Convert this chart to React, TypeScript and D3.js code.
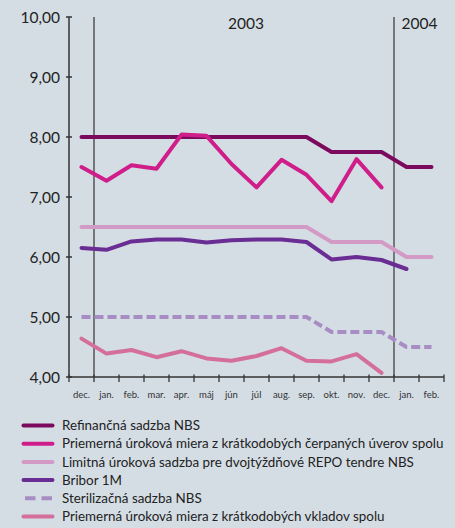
import React from "react";
import * as d3 from "d3";

const months = ["dec.", "jan.", "feb.", "mar.", "apr.", "máj", "jún", "júl", "aug.", "sep.", "okt.", "nov.", "dec.", "jan.", "feb."];
const yTicks = [4, 5, 6, 7, 8, 9, 10];
const yearLabels = ["2003", "2004"];

const refinancna = [8.0, 8.0, 8.0, 8.0, 8.0, 8.0, 8.0, 8.0, 8.0, 8.0, 7.75, 7.75, 7.75, 7.5, 7.5];
const uvery = [7.5, 7.27, 7.53, 7.47, 8.04, 8.02, 7.55, 7.16, 7.62, 7.37, 6.93, 7.63, 7.16];
const limitna = [6.5, 6.5, 6.5, 6.5, 6.5, 6.5, 6.5, 6.5, 6.5, 6.5, 6.25, 6.25, 6.25, 6.0, 6.0];
const bribor = [6.15, 6.12, 6.26, 6.29, 6.29, 6.24, 6.28, 6.29, 6.29, 6.25, 5.96, 6.0, 5.95, 5.8];
const sterilizacna = [5.0, 5.0, 5.0, 5.0, 5.0, 5.0, 5.0, 5.0, 5.0, 5.0, 4.75, 4.75, 4.75, 4.5, 4.5];
const vklady = [4.64, 4.39, 4.45, 4.33, 4.43, 4.31, 4.27, 4.35, 4.48, 4.27, 4.26, 4.38, 4.07];

const seriesNames = [
  "Refinančná sadzba NBS",
  "Priemerná úroková miera z krátkodobých čerpaných úverov spolu",
  "Limitná úroková sadzba pre dvojtýždňové REPO tendre NBS",
  "Bribor 1M",
  "Sterilizačná sadzba NBS",
  "Priemerná úroková miera z krátkodobých vkladov spolu",
];

const series = [
  { name: seriesNames[0], values: refinancna, color: "#7b0a5f", dash: "" },
  { name: seriesNames[1], values: uvery, color: "#cf1e8a", dash: "" },
  { name: seriesNames[2], values: limitna, color: "#d49ac6", dash: "" },
  { name: seriesNames[3], values: bribor, color: "#6a2d94", dash: "" },
  { name: seriesNames[4], values: sterilizacna, color: "#a88dc4", dash: "9,4" },
  { name: seriesNames[5], values: vklady, color: "#d46f9c", dash: "" },
];

const W = 455;
const H = 528;
const left = 69;
const right = 444;
const top = 17;
const bottom = 377;
const font = "Lato, 'Open Sans', sans-serif";

export default function App() {
  const x = d3.scaleBand<number>().domain(months.map((_, i) => i)).range([left, right]).paddingInner(0).paddingOuter(0);
  const y = d3.scaleLinear().domain([4, 10]).range([bottom, top]);
  const cx = (i: number) => (x(i) as number) + x.bandwidth() / 2;
  const line = d3
    .line<number>()
    .x((_, i) => cx(i))
    .y((d) => y(d));

  const boundaries = [x(1) as number, x(13) as number];
  const tickXs = months.map((_, i) => x(i) as number).concat([right]);

  return (
    <svg
      width={W}
      height={H}
      style={{ position: "fixed", left: 0, top: 0, display: "block" }}
      fontFamily={font}
    >
      <rect x={0} y={0} width={W} height={H} fill="#d5dde4" />

      {/* year separators */}
      <line x1={boundaries[0]} x2={boundaries[0]} y1={top} y2={bottom} stroke="#222" strokeWidth={1.1} />
      <line x1={boundaries[1]} x2={boundaries[1]} y1={top} y2={bottom} stroke="#555" strokeWidth={1.5} />
      <text x={228} y={29} fontSize={15.5} fill="#222">{yearLabels[0]}</text>
      <text x={401.5} y={29} fontSize={15.5} fill="#222">{yearLabels[1]}</text>

      {/* series */}
      {series.map((s) => (
        <path
          key={s.name}
          d={line(s.values) || ""}
          fill="none"
          stroke={s.color}
          strokeWidth={4}
          strokeDasharray={s.dash || undefined}
          strokeLinejoin="round"
          strokeLinecap={s.dash ? "butt" : "round"}
        />
      ))}

      {/* axes */}
      <line x1={left} x2={left} y1={top} y2={bottom} stroke="#333" strokeWidth={1.5} />
      <line x1={left} x2={right} y1={bottom} y2={bottom} stroke="#333" strokeWidth={1.5} />
      {yTicks.map((t) => (
        <g key={t}>
          <line x1={left - 3} x2={left + 3} y1={y(t)} y2={y(t)} stroke="#333" strokeWidth={1.5} />
          <text x={60} y={y(t) + 5.5} textAnchor="end" fontSize={15.5} fill="#222">
            {t.toFixed(2).replace(".", ",")}
          </text>
        </g>
      ))}
      {tickXs.map((tx, i) => (
        <line key={i} x1={tx} x2={tx} y1={bottom - 2.5} y2={bottom + 5} stroke="#333" strokeWidth={1.3} />
      ))}
      {months.map((m, i) => (
        <text key={i} x={cx(i)} y={398} textAnchor="middle" fontSize={9.5} fill="#333">
          {m}
        </text>
      ))}

      {/* legend */}
      {series.map((s, i) => {
        const ly = 425.5 + i * 18.2;
        return (
          <g key={s.name}>
            <line
              x1={s.dash ? 25 : 23.5}
              x2={s.dash ? 52 : 52.5}
              y1={ly}
              y2={ly}
              stroke={s.color}
              strokeWidth={4}
              strokeLinecap={s.dash ? "butt" : "round"}
              strokeDasharray={s.dash ? "10.5,6" : undefined}
            />
            <text x={62} y={ly + 4.7} fontSize={13.4} fill="#222">
              {s.name}
            </text>
          </g>
        );
      })}
    </svg>
  );
}
